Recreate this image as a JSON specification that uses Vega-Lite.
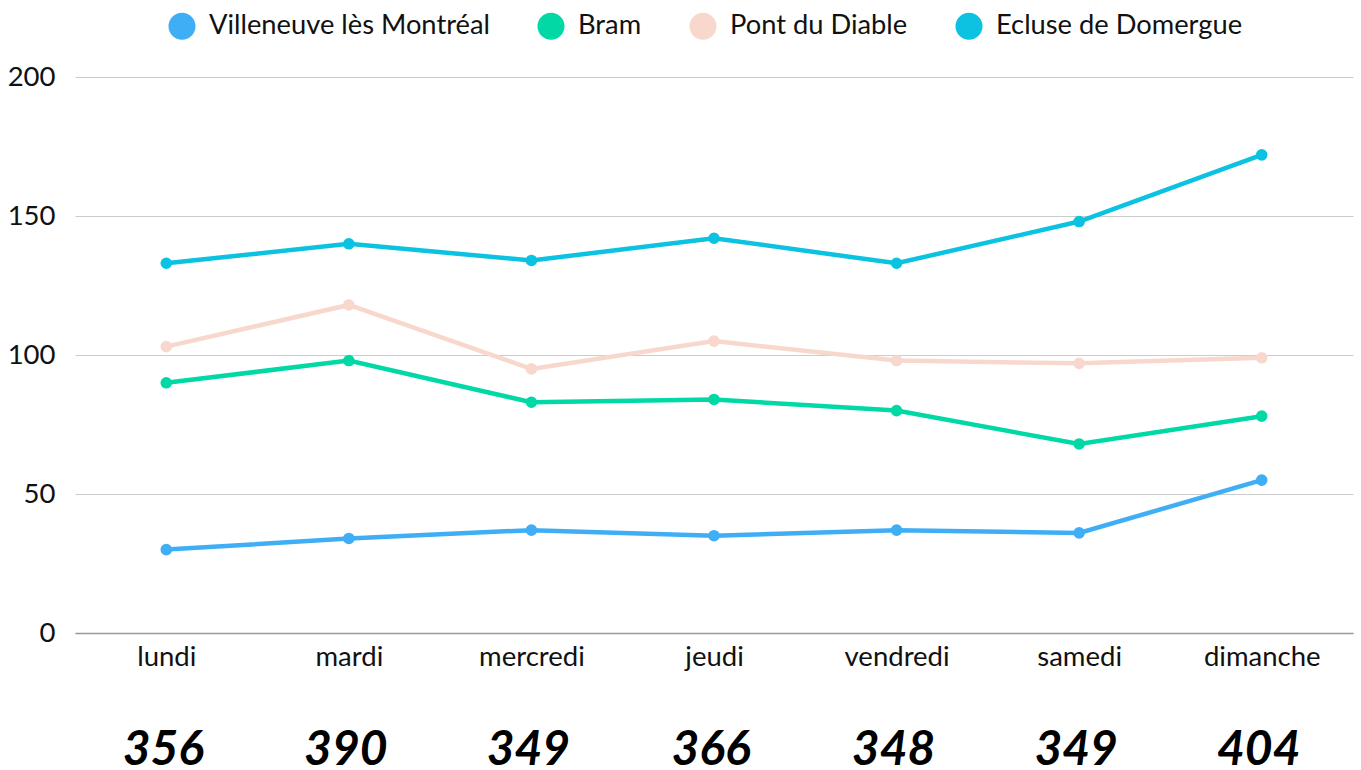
{
  "$schema": "https://vega.github.io/schema/vega-lite/v6.json",
  "autosize": "none",
  "width": 1278,
  "height": 556,
  "padding": {"left": 75, "top": 77, "right": 8, "bottom": 137},
  "background": "white",
  "config": {"view": {"stroke": null}},
  "data": {"values": [
    {"day": "lundi", "station": "Villeneuve lès Montréal", "value": 30},
    {"day": "mardi", "station": "Villeneuve lès Montréal", "value": 34},
    {"day": "mercredi", "station": "Villeneuve lès Montréal", "value": 37},
    {"day": "jeudi", "station": "Villeneuve lès Montréal", "value": 35},
    {"day": "vendredi", "station": "Villeneuve lès Montréal", "value": 37},
    {"day": "samedi", "station": "Villeneuve lès Montréal", "value": 36},
    {"day": "dimanche", "station": "Villeneuve lès Montréal", "value": 55},
    {"day": "lundi", "station": "Bram", "value": 90},
    {"day": "mardi", "station": "Bram", "value": 98},
    {"day": "mercredi", "station": "Bram", "value": 83},
    {"day": "jeudi", "station": "Bram", "value": 84},
    {"day": "vendredi", "station": "Bram", "value": 80},
    {"day": "samedi", "station": "Bram", "value": 68},
    {"day": "dimanche", "station": "Bram", "value": 78},
    {"day": "lundi", "station": "Pont du Diable", "value": 103},
    {"day": "mardi", "station": "Pont du Diable", "value": 118},
    {"day": "mercredi", "station": "Pont du Diable", "value": 95},
    {"day": "jeudi", "station": "Pont du Diable", "value": 105},
    {"day": "vendredi", "station": "Pont du Diable", "value": 98},
    {"day": "samedi", "station": "Pont du Diable", "value": 97},
    {"day": "dimanche", "station": "Pont du Diable", "value": 99},
    {"day": "lundi", "station": "Ecluse de Domergue", "value": 133},
    {"day": "mardi", "station": "Ecluse de Domergue", "value": 140},
    {"day": "mercredi", "station": "Ecluse de Domergue", "value": 134},
    {"day": "jeudi", "station": "Ecluse de Domergue", "value": 142},
    {"day": "vendredi", "station": "Ecluse de Domergue", "value": 133},
    {"day": "samedi", "station": "Ecluse de Domergue", "value": 148},
    {"day": "dimanche", "station": "Ecluse de Domergue", "value": 172}
  ]},
  "encoding": {
    "x": {
      "field": "day", "type": "ordinal",
      "sort": ["lundi", "mardi", "mercredi", "jeudi", "vendredi", "samedi", "dimanche"],
      "scale": {"type": "point", "padding": 0.5},
      "axis": {"title": null, "labelAngle": 0, "ticks": false, "domainColor": "#999999", "domainWidth": 1.5, "labelFont": "Lato", "labelFontSize": 27.5, "labelColor": "#111111", "labelPadding": 10, "grid": false}
    }
  },
  "layer": [
    {
      "mark": {"type": "line", "strokeWidth": 4.5},
      "encoding": {
        "y": {"field": "value", "type": "quantitative", "scale": {"domain": [0, 200], "nice": false},
          "axis": {"title": null, "values": [0, 50, 100, 150, 200], "domain": false, "ticks": false, "gridColor": "#cccccc", "gridWidth": 1, "labelFont": "Lato", "labelFontSize": 27.5, "labelColor": "#111111", "labelPadding": 20}},
        "color": {"field": "station", "type": "nominal",
          "scale": {"domain": ["Villeneuve lès Montréal", "Bram", "Pont du Diable", "Ecluse de Domergue"], "range": ["#3FAEF4", "#00D9A6", "#F8D8CD", "#0BC2E0"]},
          "legend": {"title": null, "orient": "none", "direction": "horizontal", "legendX": 93, "legendY": -65, "symbolType": "circle", "symbolSize": 730, "symbolStrokeWidth": 0, "symbolOpacity": 1, "labelFont": "Lato", "labelFontSize": 27.3, "labelColor": "#111111", "labelOffset": 13, "columnPadding": 47, "labelLimit": 400}}
      }
    },
    {
      "mark": {"type": "point", "filled": true, "size": 135, "opacity": 1},
      "encoding": {
        "y": {"field": "value", "type": "quantitative"},
        "color": {"field": "station", "type": "nominal", "legend": null}
      }
    },
    {
      "mark": {"type": "text", "font": "Lato", "fontSize": 48, "fontWeight": "bold", "fontStyle": "italic", "color": "#000000", "baseline": "middle", "dx": -3},
      "encoding": {
        "y": {"datum": -42.3},
        "text": {"aggregate": "sum", "field": "value", "type": "quantitative"}
      }
    }
  ]
}
